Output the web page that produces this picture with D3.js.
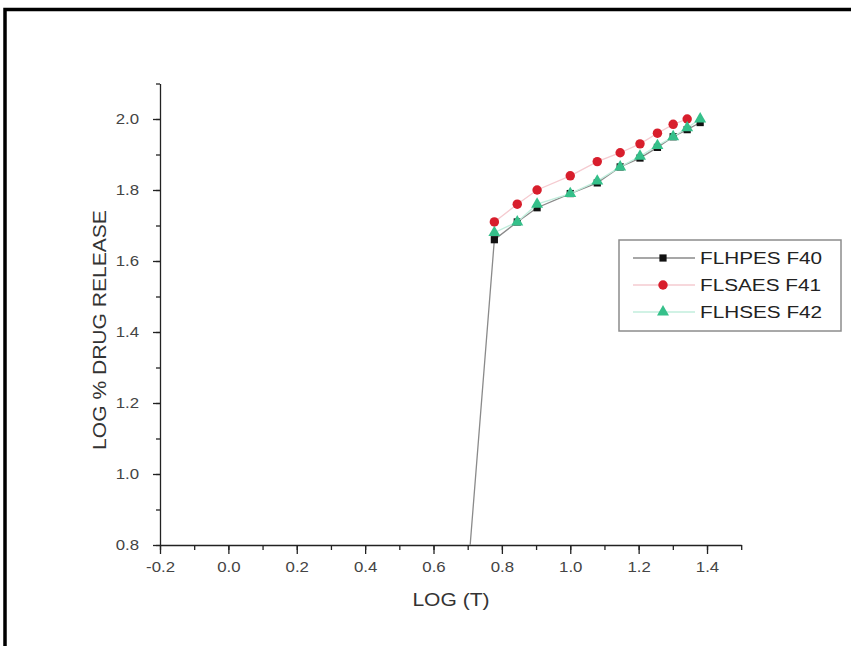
<!DOCTYPE html>
<html>
<head>
<meta charset="utf-8">
<script src="https://cdn.jsdelivr.net/npm/d3@7"></script>
<style>
  body { margin: 0; background: #fff; }
  svg { display: block; font-family: "Liberation Sans", Arial, sans-serif; }
</style>
</head>
<body>
<svg id="chart" width="851" height="646"></svg>
<script>
// data
const logT = [0.699, 0.778, 0.845, 0.903, 1.0, 1.079, 1.146, 1.204, 1.255, 1.301, 1.342, 1.380];
const f40 = [0.70, 1.66, 1.71, 1.75, 1.79, 1.82, 1.865, 1.89, 1.92, 1.95, 1.97, 1.99];
const f41 = [null, 1.71, 1.76, 1.80, 1.84, 1.88, 1.905, 1.93, 1.96, 1.985, 2.0, null];
const f42 = [null, 1.68, 1.71, 1.76, 1.79, 1.825, 1.865, 1.895, 1.925, 1.95, 1.975, 2.0];
const seriesNames = ["FLHPES F40", "FLSAES F41", "FLHSES F42"];
const xTicks = [-0.2, 0.0, 0.2, 0.4, 0.6, 0.8, 1.0, 1.2, 1.4];
const yTicks = [0.8, 1.0, 1.2, 1.4, 1.6, 1.8, 2.0];

const svg = d3.select("#chart");
const stretch = 1.2; // text in the picture is a bit wide
const fmt = d => d3.format(".1f")(d).replace("\u2212", "-");

// outer frame (top and left edges only show)
svg.append("path")
  .attr("d", "M5,646 V9.5 H851")
  .attr("fill", "none").attr("stroke", "#000").attr("stroke-width", 3.5);

const x = d3.scaleLinear().domain([-0.2, 1.5]).range([160, 741.2]);
const y = d3.scaleLinear().domain([0.8, 2.1]).range([545, 83.5]);

// clip for the data
svg.append("clipPath").attr("id", "plotclip")
  .append("rect").attr("x", 160).attr("y", 80).attr("width", 600).attr("height", 465);

// x axis
const xMinor = d3.range(-0.2, 1.51, 0.1).map(v => +v.toFixed(1));
svg.append("g").attr("transform", "translate(0,545)")
  .call(d3.axisBottom(x).tickValues(xMinor).tickSize(5).tickFormat(""))
  .call(g => g.select(".domain").remove())
  .selectAll("line").attr("stroke", "#222").attr("stroke-width", 1.3);
const gx = svg.append("g").attr("transform", "translate(0,545)")
  .call(d3.axisBottom(x).tickValues(xTicks).tickSize(9).tickPadding(8).tickFormat(fmt).tickSizeOuter(0));
gx.select(".domain").attr("stroke", "#222").attr("stroke-width", 1.3);
gx.selectAll("line").attr("stroke", "#222").attr("stroke-width", 1.3);
gx.selectAll("text")
  .attr("font-size", 14).attr("fill", "#444")
  .attr("font-family", "Liberation Sans, Arial, sans-serif")
  .attr("transform", `scale(${stretch},1)`);

// y axis
const yMinor = d3.range(0.8, 2.11, 0.1).map(v => +v.toFixed(1));
svg.append("g").attr("transform", "translate(160,0)")
  .call(d3.axisLeft(y).tickValues(yMinor).tickSize(4).tickFormat(""))
  .call(g => g.select(".domain").remove())
  .selectAll("line").attr("stroke", "#222").attr("stroke-width", 1.3);
const gy = svg.append("g").attr("transform", "translate(160,0)")
  .call(d3.axisLeft(y).tickValues(yTicks).tickSize(7).tickPadding(14).tickFormat(fmt).tickSizeOuter(0));
gy.select(".domain").attr("stroke", "#222").attr("stroke-width", 1.3);
gy.selectAll("line").attr("stroke", "#222").attr("stroke-width", 1.3);
gy.selectAll("text")
  .attr("font-size", 14).attr("fill", "#444")
  .attr("font-family", "Liberation Sans, Arial, sans-serif")
  .attr("x", -21 / stretch)
  .attr("transform", `scale(${stretch},1)`);

// axis titles
svg.append("text")
  .attr("transform", `translate(451,606) scale(1.17,1)`)
  .attr("text-anchor", "middle").attr("font-size", 18).attr("fill", "#333")
  .text("LOG (T)");
svg.append("text")
  .attr("transform", `translate(106,330) rotate(-90) scale(1.17,1)`)
  .attr("text-anchor", "middle").attr("font-size", 18).attr("fill", "#333")
  .text("LOG % DRUG RELEASE");

// series
const series = [
  { name: seriesNames[0], values: f40, line: "#8a8a8a", fill: "#111", shape: d3.symbolSquare, size: 52 },
  { name: seriesNames[1], values: f41, line: "#f5cbd0", fill: "#d81e2c", shape: d3.symbolCircle, size: 70 },
  { name: seriesNames[2], values: f42, line: "#c2eedd", fill: "#35c08a", shape: d3.symbolTriangle, size: 62 }
];

const plot = svg.append("g").attr("clip-path", "url(#plotclip)");
const line = d3.line()
  .defined(d => d[1] != null)
  .x(d => x(d[0])).y(d => y(d[1]));

series.forEach(s => {
  const pts = logT.map((t, i) => [t, s.values[i]]);
  plot.append("path")
    .datum(pts)
    .attr("d", line)
    .attr("fill", "none")
    .attr("stroke", s.line)
    .attr("stroke-width", 1.3);
  plot.selectAll(null)
    .data(pts.filter(d => d[1] != null))
    .enter().append("path")
    .attr("d", d3.symbol().type(s.shape).size(s.size))
    .attr("transform", d => `translate(${x(d[0])},${y(d[1])})`)
    .attr("fill", s.fill);
});

// legend
const legend = svg.append("g");
legend.append("rect")
  .attr("x", 619).attr("y", 240).attr("width", 222).attr("height", 91)
  .attr("fill", "#fff").attr("stroke", "#8c8c8c").attr("stroke-width", 1.5);
series.forEach((s, i) => {
  const cy = 258 + i * 27;
  legend.append("line")
    .attr("x1", 633).attr("x2", 695).attr("y1", cy).attr("y2", cy)
    .attr("stroke", s.line).attr("stroke-width", 1.3);
  legend.append("path")
    .attr("d", d3.symbol().type(s.shape).size(s.size))
    .attr("transform", `translate(663,${cy})`)
    .attr("fill", s.fill);
  legend.append("text")
    .attr("transform", `translate(700,${cy + 6}) scale(1.22,1)`)
    .attr("font-size", 17).attr("fill", "#222")
    .text(s.name);
});
</script>
</body>
</html>
